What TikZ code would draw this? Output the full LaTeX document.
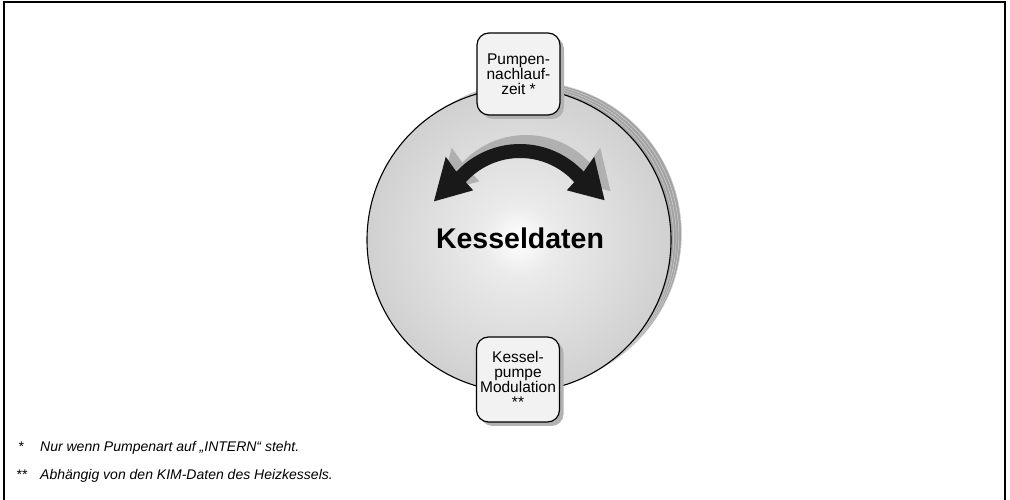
\documentclass[tikz,border=0pt]{standalone}
\usepackage{fontspec}
\setmainfont{Liberation Sans}
\usetikzlibrary{shadows}
\colorlet{discmid}{gray!16}
\colorlet{discout}{gray!64}
\pgfdeclareradialshading{discshade}{\pgfpoint{0bp}{0bp}}{color(0bp)=(white); color(6bp)=(discmid); color(50bp)=(discout)}
\tikzset{
  frameline/.style={line width=1.3pt},
  discback/.style={circle, minimum size=304pt, inner sep=0pt, fill=gray!72, draw=gray!35, line width=0.5pt},
  discfront/.style={circle, minimum size=304pt, inner sep=0pt, shade, shading=discshade, draw=black, line width=1.1pt},
  infobox/.style={draw=black, line width=1.2pt, rounded corners=12pt, fill=gray!10,
    minimum width=83pt, minimum height=82pt, align=center, inner sep=1pt,
    general shadow={fill=gray!60, draw=none, shadow xshift=4pt, shadow yshift=-4pt},
    font=\fontsize{15.5}{15.2}\selectfont},
  titletext/.style={font=\bfseries\fontsize{28.5}{30}\selectfont},
  foot/.style={anchor=base west, inner sep=0pt, font=\itshape\fontsize{14}{16}\selectfont},
  arrowshape/.style={insert path={(137:87) arc[start angle=137,end angle=43,radius=87]
     -- (45:105) -- (20:90) -- (41:62) -- (42:73)
     arc[start angle=42,end angle=138,radius=73]
     -- (139:62) -- (161:91) -- (135:105) -- cycle}}
}
\begin{document}
\begin{tikzpicture}[x=1pt,y=1pt]
\useasboundingbox (0,0) rectangle (1010,500);
\draw[frameline] (4,0) -- (4,498) -- (1005,498) -- (1005,0);
% stacked discs
\foreach \k in {4,3,2,1} {
  \node[discback] (back\k) at ({519+2.6*\k},{260+1.5*\k}) {};
}
\node[discfront] (disc) at (519,260) {};
% curved double arrow
\begin{scope}[shift={(520,269)}]
  \fill[gray!62, shift={(6,9)}, arrowshape];
  \fill[black!90, arrowshape];
\end{scope}
\node[titletext] (title) at (520,262) {Kesseldaten};
\node[infobox] (top) at (518.5,426) {Pumpen-\\nachlauf-\\zeit *};
\node[infobox, minimum height=85pt] (bot) at (518,120.5) {Kessel-\\pumpe\\Modulation\\**};
% footnotes
\node[foot] (m1) at (18,48) {*};
\node[foot] (fn1) at (40,48) {Nur wenn Pumpenart auf „INTERN“ steht.};
\node[foot] (m2) at (16,20) {**};
\node[foot] (fn2) at (40,20) {Abhängig von den KIM-Daten des Heizkessels.};
\end{tikzpicture}
\end{document}
